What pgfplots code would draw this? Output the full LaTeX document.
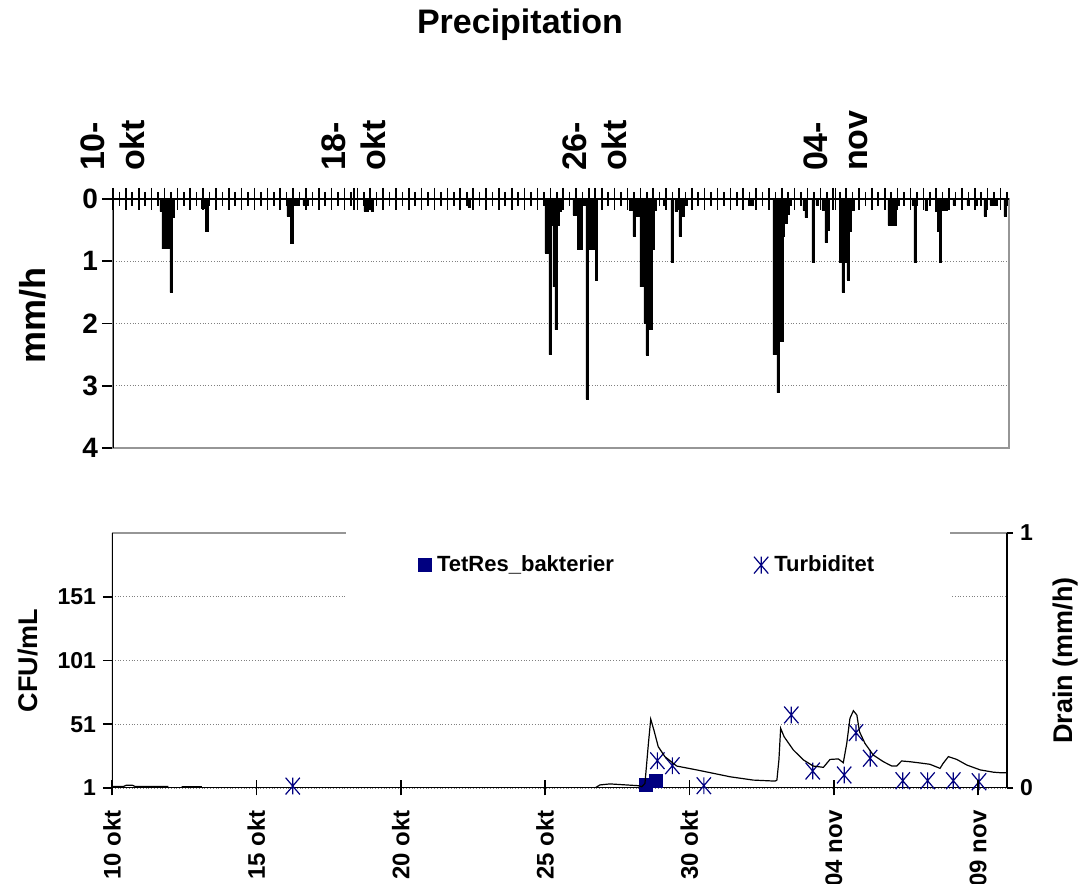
\documentclass[border=0pt]{standalone}
\usepackage{fontspec}
\setmainfont{Liberation Sans}
\usepackage{pgfplots}
\pgfplotsset{compat=1.18}
\definecolor{navy}{RGB}{0,0,128}
\definecolor{bordergray}{RGB}{150,150,150}
\pgfdeclareplotmark{xstar}{%
  \pgfpathmoveto{\pgfqpoint{0pt}{\pgfplotmarksize}}%
  \pgfpathlineto{\pgfqpoint{0pt}{-\pgfplotmarksize}}%
  \pgfpathmoveto{\pgfqpoint{-0.85\pgfplotmarksize}{\pgfplotmarksize}}%
  \pgfpathlineto{\pgfqpoint{0.85\pgfplotmarksize}{-\pgfplotmarksize}}%
  \pgfpathmoveto{\pgfqpoint{-0.85\pgfplotmarksize}{-\pgfplotmarksize}}%
  \pgfpathlineto{\pgfqpoint{0.85\pgfplotmarksize}{\pgfplotmarksize}}%
  \pgfusepathqstroke}
\pgfplotstableread{
day mm
1.66 0.2
1.73 0.8
1.80 0.8
1.87 0.8
1.94 0.8
2.01 1.5
2.08 0.3
3.11 0.15
3.25 0.52
6.06 0.28
6.12 0.28
6.19 0.71
6.30 0.1
6.40 0.1
6.61 0.1
6.71 0.1
8.72 0.2
8.79 0.2
8.96 0.2
12.32 0.13
14.98 0.87
15.05 0.87
15.12 2.5
15.19 0.42
15.26 1.41
15.33 2.1
15.40 0.42
15.47 0.2
15.95 0.26
16.02 0.26
16.12 0.81
16.19 0.81
16.30 0.1
16.40 3.21
16.51 0.81
16.57 0.81
16.63 0.81
16.73 1.3
17.92 0.18
18.03 0.6
18.13 0.28
18.20 0.28
18.27 1.41
18.34 1.41
18.41 2.0
18.48 2.51
18.55 2.1
18.62 2.1
18.69 0.81
18.75 0.18
19.07 0.1
19.34 1.02
19.48 0.2
19.62 0.6
19.72 0.28
19.83 0.1
22.01 0.1
22.11 0.1
22.87 2.5
22.94 2.5
23.01 3.11
23.08 2.29
23.15 2.29
23.20 0.6
23.29 0.39
23.36 0.24
23.43 0.1
23.91 0.18
23.98 0.3
24.22 1.02
24.36 0.1
24.57 0.18
24.67 0.7
24.74 0.5
25.16 1.02
25.26 1.5
25.33 1.02
25.43 1.3
25.50 0.52
25.61 0.18
26.85 0.42
26.96 0.42
27.06 0.42
27.16 0.1
27.68 0.1
27.75 1.02
28.13 0.18
28.48 0.2
28.55 0.52
28.62 1.02
28.72 0.18
28.82 0.18
29.10 0.1
29.58 0.1
29.86 0.1
30.17 0.28
30.38 0.1
30.55 0.1
30.86 0.28
}\precip
\pgfplotstableread{
day drain
0.00 0.006
0.40 0.006
0.50 0.011
0.70 0.011
0.80 0.006
1.95 0.006
nan nan
2.41 0.005
3.11 0.005
nan nan
16.73 0.0
16.90 0.012
17.25 0.016
18.23 0.009
18.35 0.005
18.46 0.018
18.58 0.175
18.66 0.27
18.77 0.227
18.92 0.162
19.15 0.123
19.56 0.086
20.25 0.071
21.41 0.044
22.21 0.031
22.97 0.027
23.03 0.031
23.10 0.11
23.16 0.234
23.28 0.201
23.60 0.149
23.95 0.11
24.29 0.086
24.64 0.081
24.87 0.112
25.16 0.114
25.33 0.099
25.45 0.175
25.56 0.273
25.68 0.303
25.80 0.286
25.89 0.221
26.08 0.175
26.37 0.129
26.72 0.103
27.01 0.086
27.18 0.086
27.35 0.106
27.64 0.103
27.93 0.099
28.33 0.093
28.68 0.077
28.79 0.097
28.97 0.123
29.26 0.112
29.61 0.090
30.07 0.071
30.53 0.062
30.76 0.060
31.00 0.060
}\drain
\pgfplotstableread{
day turb
6.26 2.5
18.89 22.4
19.41 18.5
20.50 2.8
22.52 0.0
23.53 58.3
24.27 14.3
25.36 11.2
25.77 44.4
26.26 24.3
27.39 6.7
28.25 6.7
29.14 6.7
30.03 5.9
}\turb
\pgfplotstableread{
day cfu
18.49 3.4
18.84 6.7
}\tetres
\begin{document}
\begin{tikzpicture}
\useasboundingbox (0,0) rectangle (539pt,442pt);
\node[font=\bfseries\fontsize{17}{20}\selectfont] at (260pt,429.5pt) {Precipitation};
% ---------- top panel: bars and y axis
\begin{axis}[
  at={(56.5pt,218pt)}, anchor=south west, scale only axis,
  width=448pt, height=124.5pt,
  xmin=0, xmax=31, ymin=0, ymax=4, y dir=reverse,
  xtick=\empty, ytick={0,1,2,3,4}, ytick pos=left,
  tick align=outside, major tick length=5.5pt,
  tick style={black, line width=0.8pt},
  ymajorgrids, grid style={densely dotted, gray, line width=0.6pt},
  axis line style={draw=bordergray, line width=1.2pt},
  /pgf/number format/assume math mode=true,
  yticklabel style={font=\bfseries\fontsize{14}{16}\selectfont, xshift=1.5pt},
  ylabel={mm/h},
  ylabel style={font=\bfseries\fontsize{18}{20}\selectfont, at={(axis description cs:-0.089,0.534)}, anchor=center},
]
\addplot[ybar, bar width=0.08, fill=black, draw=black, line width=0.3pt] table[x=day, y=mm] {\precip};
\draw[black, line width=1pt] (axis cs:0,0) -- (axis cs:0,4);
\draw[black, line width=1.2pt] (axis cs:0,0) -- (axis cs:31,0);
\end{axis}
% ---------- top panel: x ticks and date labels
\begin{axis}[
  at={(56.5pt,218pt)}, anchor=south west, scale only axis,
  width=448pt, height=124.5pt,
  xmin=0, xmax=31, ymin=0, ymax=4, y dir=reverse,
  hide y axis, axis line style={draw=none},
  xtick={0,8.34,16.68,25.0},
  xticklabels={{10-\\okt},{18-\\okt},{26-\\okt},{04-\\nov}},
  minor xtick={0.2225,0.6675,...,31},
  extra x ticks={0.445,0.89,...,31}, extra x tick labels={},
  xtick pos=right, xticklabel pos=right, tick align=center,
  major tick length=11pt, minor tick length=7pt,
  tick style={black, line width=0.8pt},
  xticklabel style={rotate=90, anchor=west, align=left, font=\bfseries\fontsize{17}{20}\selectfont},
  xticklabel shift=5pt,
]
\addplot[draw=none] coordinates {(0,0)};
\end{axis}
% ---------- bottom panel: left axis
\begin{axis}[
  at={(56pt,48pt)}, anchor=south west, scale only axis,
  width=447.5pt, height=127.5pt,
  xmin=0, xmax=31, ymin=1, ymax=201,
  xtick=\empty, ytick={1,51,101,151}, ytick pos=left,
  tick align=outside, major tick length=4.5pt,
  tick style={black, line width=0.8pt},
  ymajorgrids, grid style={densely dotted, gray, line width=0.6pt},
  axis line style={draw=none},
  /pgf/number format/assume math mode=true,
  yticklabel style={font=\bfseries\fontsize{11.5}{13}\selectfont},
  ylabel={CFU/mL},
  ylabel style={font=\bfseries\fontsize{13.5}{15}\selectfont, at={(axis description cs:-0.094,0.5)}, anchor=center},
  legend columns=2,
  legend style={at={(axis description cs:0.599,0.874)}, anchor=center, fill=white, draw=none,
    font=\bfseries\fontsize{11}{13}\selectfont, inner xsep=36pt, inner ysep=14pt,
    /tikz/every odd column/.append style={column sep=1pt},
    /tikz/column 2/.style={column sep=68pt}},
  legend cell align=left,
]
\draw[bordergray, line width=1.2pt] (axis cs:0,201) -- (axis cs:31,201);
\draw[black, line width=1pt] (axis cs:0,1) -- (axis cs:0,201);
\draw[black, line width=1.2pt] (axis cs:0,1) -- (axis cs:31,1);
\addplot[only marks, mark=square*, mark size=3.25pt, color=navy] table[x=day, y=cfu] {\tetres};
\addlegendentry{TetRes\_bakterier}
\addplot[only marks, mark=xstar, mark size=4.2pt, color=navy, line width=0.6pt] table[x=day, y=turb] {\turb};
\addlegendentry{Turbiditet}
\end{axis}
% ---------- bottom panel: right axis (drain)
\begin{axis}[
  at={(56pt,48pt)}, anchor=south west, scale only axis,
  width=447.5pt, height=127.5pt,
  xmin=0, xmax=31, ymin=0, ymax=1,
  axis x line=none, axis y line*=right,
  ytick={0,1},
  tick align=outside, major tick length=3pt,
  tick style={black, line width=0.8pt},
  axis line style={black, line width=1pt},
  /pgf/number format/assume math mode=true,
  yticklabel style={font=\bfseries\fontsize{11.5}{13}\selectfont},
  ylabel={Drain (mm/h)},
  ylabel style={font=\bfseries\fontsize{13.5}{15}\selectfont, at={(axis description cs:1.065,0.5)}, anchor=center, rotate=0},
  unbounded coords=jump,
]
\addplot[black, line width=0.6pt] table[x=day, y=drain] {\drain};
\end{axis}
% ---------- bottom panel: x ticks and labels
\begin{axis}[
  at={(56pt,48pt)}, anchor=south west, scale only axis,
  width=447.5pt, height=127.5pt,
  xmin=0, xmax=31, ymin=0, ymax=1,
  hide y axis, axis line style={draw=none},
  xtick={0,5,10,15,20,25,30},
  xticklabels={10 okt,15 okt,20 okt,25 okt,30 okt,04 nov,09 nov},
  xtick pos=lower, tick align=center, major tick length=7.5pt,
  tick style={black, line width=0.8pt},
  xticklabel style={rotate=90, anchor=east, font=\bfseries\fontsize{12}{14}\selectfont},
  xticklabel shift=4pt,
]
\addplot[draw=none] coordinates {(0,0)};
\end{axis}
\end{tikzpicture}
\end{document}
